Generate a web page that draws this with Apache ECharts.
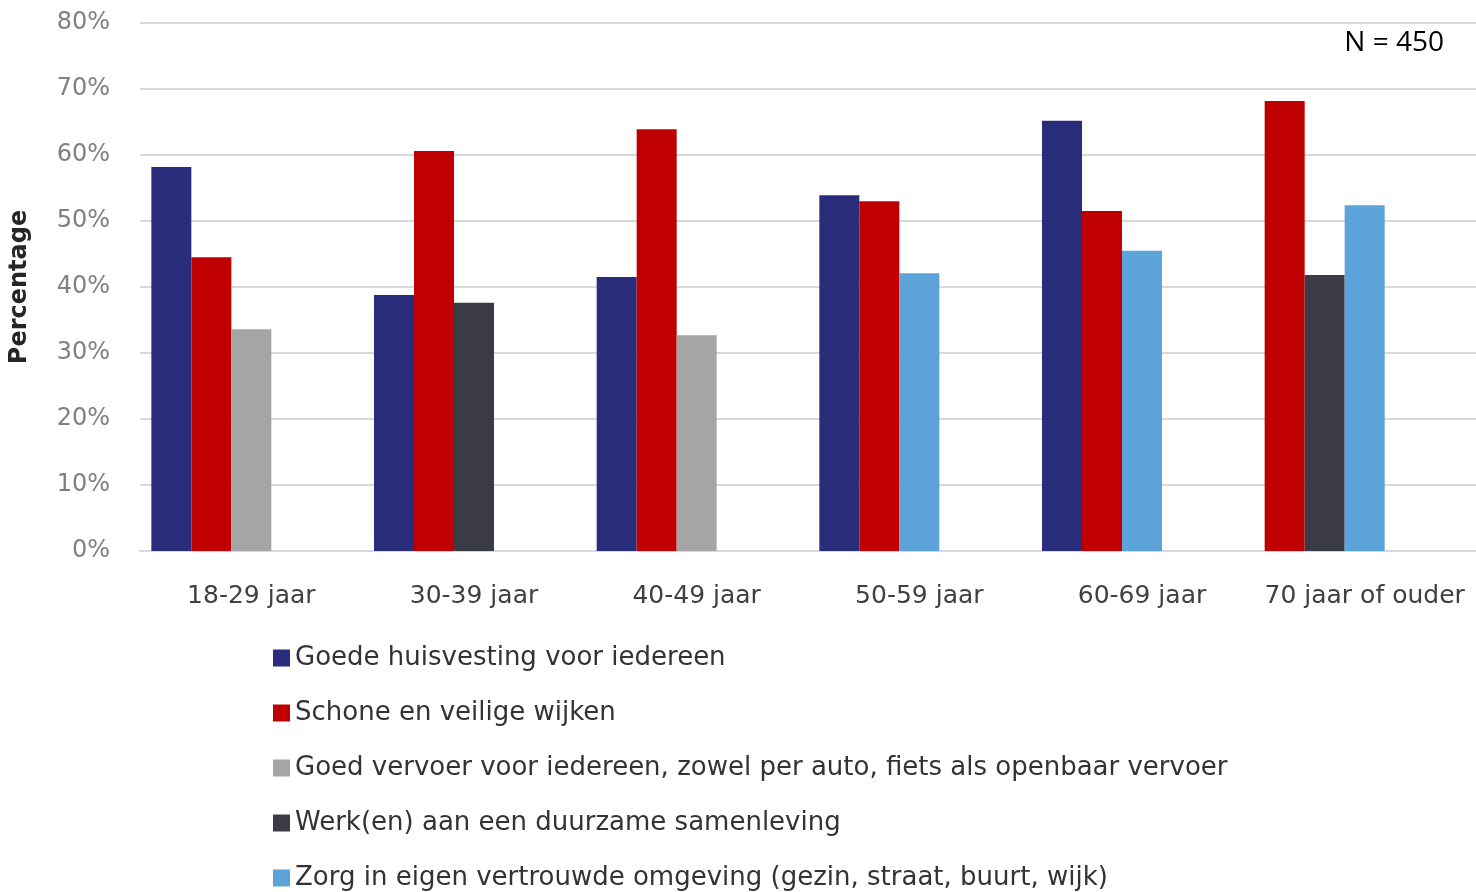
<!DOCTYPE html>
<html>
<head>
<meta charset="utf-8">
<script src="https://cdn.jsdelivr.net/npm/echarts@6/dist/echarts.min.js"></script>
<style>html,body{margin:0;padding:0;background:#fff}#c{width:1476px;height:892px}</style>
</head>
<body>
<div id="c"></div>
<script>
const categories = ['18-29 jaar', '30-39 jaar', '40-49 jaar', '50-59 jaar', '60-69 jaar', '70 jaar of ouder'];
const seriesNames = [
  'Goede huisvesting voor iedereen',
  'Schone en veilige wijken',
  'Goed vervoer voor iedereen, zowel per auto, fiets als openbaar vervoer',
  'Werk(en) aan een duurzame samenleving',
  'Zorg in eigen vertrouwde omgeving (gezin, straat, buurt, wijk)'
];
const seriesColors = ['#2a2d7c', '#c00000', '#a5a5a5', '#3b3b46', '#5ba3d9'];
const huisvesting = [58.2, 38.8, 41.5, 53.9, 65.2, null];
const wijken      = [44.5, 60.6, 63.9, 53.0, 51.5, 68.2];
const vervoer     = [33.6, null, 32.7, null, null, null];
const duurzaam    = [null, 37.6, null, null, null, 41.8];
const zorg        = [null, null, null, 42.1, 45.5, 52.4];
const yTicks = [0, 10, 20, 30, 40, 50, 60, 70, 80];

const allValues = [huisvesting, wijken, vervoer, duurzaam, zorg];

// Bars are packed into the leftmost slots of each category
const slotCount = 5;
const slots = [];
for (let s = 0; s < slotCount; s++) slots.push([]);
categories.forEach((c, ci) => {
  let k = 0;
  allValues.forEach((arr, si) => {
    if (arr[ci] != null) {
      slots[k].push({ value: arr[ci], itemStyle: { color: seriesColors[si] } });
      k++;
    }
  });
  for (; k < slotCount; k++) slots[k].push(null);
});

const series = [];
slots.forEach((d, i) => {
  series.push({
    type: 'bar', name: 'slot' + i, data: d, xAxisIndex: 0, yAxisIndex: 0,
    barWidth: 40, barGap: '0%', silent: true
  });
});
seriesNames.forEach((n, i) => {
  series.push({
    type: 'bar', name: n, data: [], xAxisIndex: 1, yAxisIndex: 1,
    itemStyle: { color: seriesColors[i] }
  });
});

const F = 'DejaVu Sans';
const chart = echarts.init(document.getElementById('c'));
chart.setOption({
  animation: false,
  textStyle: { fontFamily: F },
  grid: { left: 140, right: 0, top: 23, bottom: 341 },
  xAxis: [{
    type: 'category', data: categories,
    axisLine: { show: true, lineStyle: { color: '#d9d9d9', width: 2 } },
    axisTick: { show: false },
    axisLabel: { interval: 0, color: '#404040', fontSize: 25, margin: 33, fontFamily: F }
  }, {
    type: 'category', data: categories, show: false
  }],
  yAxis: [{
    type: 'value', min: 0, max: 80, interval: 10,
    name: 'Percentage', nameLocation: 'middle', nameGap: 108, nameRotate: 90,
    nameTextStyle: { fontSize: 24, fontWeight: 'bold', color: '#262626', fontFamily: F, padding: [0, 0, 0, 0] },
    axisLabel: { formatter: v => yTicks.includes(v) ? v + '%' : '', color: '#808080', fontSize: 24, margin: 30, fontFamily: F },
    splitLine: { lineStyle: { color: '#d9d9d9', width: 2 } },
    axisLine: { show: false }, axisTick: { show: false }
  }, {
    type: 'value', min: 0, max: 80, show: false
  }],
  legend: {
    data: seriesNames,
    orient: 'vertical', left: 268, top: 639, height: 260,
    icon: 'rect', itemWidth: 17, itemHeight: 17, itemGap: 27, itemTextGap: 8,
    selectedMode: false,
    textStyle: { fontSize: 26, color: '#333333', lineHeight: 28, fontFamily: F }
  },
  graphic: [{
    type: 'text', right: 32, top: 29,
    style: { text: 'N = 450', fontSize: 28, fill: '#000', fontFamily: 'Open Sans' }
  }],
  series: series
});
</script>
</body>
</html>
